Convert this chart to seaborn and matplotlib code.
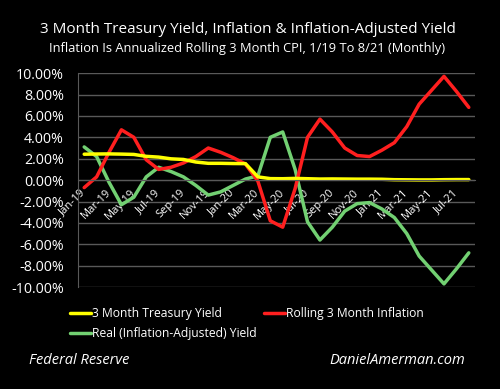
import matplotlib
matplotlib.use("Agg")
import matplotlib.pyplot as plt
import pandas as pd
import numpy as np
import seaborn as sns

# monthly data Jan-19 .. Aug-21
months = ['Jan-19', 'Feb-19', 'Mar-19', 'Apr-19', 'May-19', 'Jun-19', 'Jul-19', 'Aug-19',
          'Sep-19', 'Oct-19', 'Nov-19', 'Dec-19', 'Jan-20', 'Feb-20', 'Mar-20', 'Apr-20',
          'May-20', 'Jun-20', 'Jul-20', 'Aug-20', 'Sep-20', 'Oct-20', 'Nov-20', 'Dec-20',
          'Jan-21', 'Feb-21', 'Mar-21', 'Apr-21', 'May-21', 'Jun-21', 'Jul-21', 'Aug-21']

treasury = [2.42, 2.44, 2.45, 2.43, 2.40, 2.22, 2.15, 1.99, 1.93, 1.69, 1.57, 1.57,
            1.55, 1.54, 0.30, 0.14, 0.13, 0.16, 0.13, 0.10, 0.11, 0.10, 0.09, 0.09,
            0.08, 0.04, 0.03, 0.02, 0.02, 0.04, 0.05, 0.05]

inflation = [-0.7, 0.3, 2.6, 4.7, 4.0, 1.9, 1.0, 1.2, 1.6, 2.2, 3.0, 2.6,
             2.1, 1.5, -0.1, -3.8, -4.4, -0.8, 4.0, 5.7, 4.5, 3.0, 2.3, 2.2,
             2.8, 3.5, 5.0, 7.1, 8.4, 9.7, 8.3, 6.8]

real_yield = [3.1, 2.2, -0.2, -2.3, -1.6, 0.3, 1.2, 0.8, 0.3, -0.5, -1.4, -1.1,
              -0.5, 0.1, 0.4, 4.0, 4.5, 1.0, -3.9, -5.6, -4.4, -2.9, -2.2, -2.1,
              -2.7, -3.5, -5.0, -7.1, -8.4, -9.7, -8.3, -6.8]

series_names = ['3 Month Treasury Yield', 'Real (Inflation-Adjusted) Yield', 'Rolling 3 Month Inflation']
colors = {'3 Month Treasury Yield': '#FFFF00',
          'Rolling 3 Month Inflation': '#FF1F1F',
          'Real (Inflation-Adjusted) Yield': '#72D072'}

idx = np.arange(len(months))
df = pd.concat([
    pd.DataFrame({'x': idx, 'val': treasury, 'serie': series_names[0]}),
    pd.DataFrame({'x': idx, 'val': real_yield, 'serie': series_names[1]}),
    pd.DataFrame({'x': idx, 'val': inflation, 'serie': series_names[2]}),
])

sns.set_style("dark")
plt.rcParams['font.family'] = ['Open Sans', 'DejaVu Sans']
plt.rcParams['text.color'] = 'white'

fig = plt.figure(figsize=(5, 3.89), dpi=100, facecolor='black')
ax = fig.add_axes([0.156, 0.262, 0.794, 0.550])
ax.set_facecolor('black')

grid_c = '#595959'
for v in np.arange(-10, 11, 2):
    ax.axhline(v, color=grid_c, lw=1.0, zorder=0)

# draw order: green under red, yellow on top
order = ['Real (Inflation-Adjusted) Yield', 'Rolling 3 Month Inflation', '3 Month Treasury Yield']
for name in order:
    sns.lineplot(data=df[df['serie'] == name], x='x', y='val', color=colors[name],
                 lw=2.5, ax=ax, label=name, legend=False)

# x axis crosses at 0, like the original
ax.spines['bottom'].set_position(('data', 0))
ax.spines['bottom'].set_color(grid_c)
ax.spines['left'].set_color(grid_c)
ax.spines['top'].set_visible(False)
ax.spines['right'].set_visible(False)

ax.set_xlim(-0.5, len(months) - 0.5)
ax.set_ylim(-10, 10)
ax.set_yticks(np.arange(-10, 11, 2))
ax.set_yticklabels([f'{v:.2f}%' for v in np.arange(-10, 11, 2)], color='white', fontsize=10.3)
ax.tick_params(axis='y', length=0, pad=10)

ax.set_xticks(idx[::2])
ax.set_xticklabels(months[::2], rotation=45, ha='right', va='center', rotation_mode='anchor',
                   color='white', fontsize=8)
ax.tick_params(axis='x', which='major', length=0, pad=8)
ax.set_xticks(np.arange(-0.5, len(months), 2), minor=True)
ax.tick_params(axis='x', which='minor', length=3, color=grid_c, direction='out')
ax.set_xlabel('')
ax.set_ylabel('')
ax.grid(False)

fig.text(0.495, 0.925, '3 Month Treasury Yield, Inflation & Inflation-Adjusted Yield',
         ha='center', va='center', fontsize=11, color='white')
fig.text(0.495, 0.876, 'Inflation Is Annualized Rolling 3 Month CPI, 1/19 To 8/21 (Monthly)',
         ha='center', va='center', fontsize=9.3, color='white')

handles, labels = ax.get_legend_handles_labels()
hmap = dict(zip(labels, handles))
leg = fig.legend([hmap[n] for n in series_names], series_names, ncol=2,
                 loc='upper left', bbox_to_anchor=(0.13, 0.222), frameon=False,
                 fontsize=8.7, handlelength=1.75, handletextpad=0.1,
                 columnspacing=0.6, labelspacing=0.55, borderaxespad=0)
for t in leg.get_texts():
    t.set_color('white')

fig.text(0.058, 0.072, 'Federal Reserve', ha='left', va='center', fontsize=10.5,
         style='italic', color='white')
fig.text(0.93, 0.072, 'DanielAmerman.com', ha='right', va='center', fontsize=10.5,
         style='italic', color='white')

fig.savefig('out.png', dpi=100, facecolor='black')
